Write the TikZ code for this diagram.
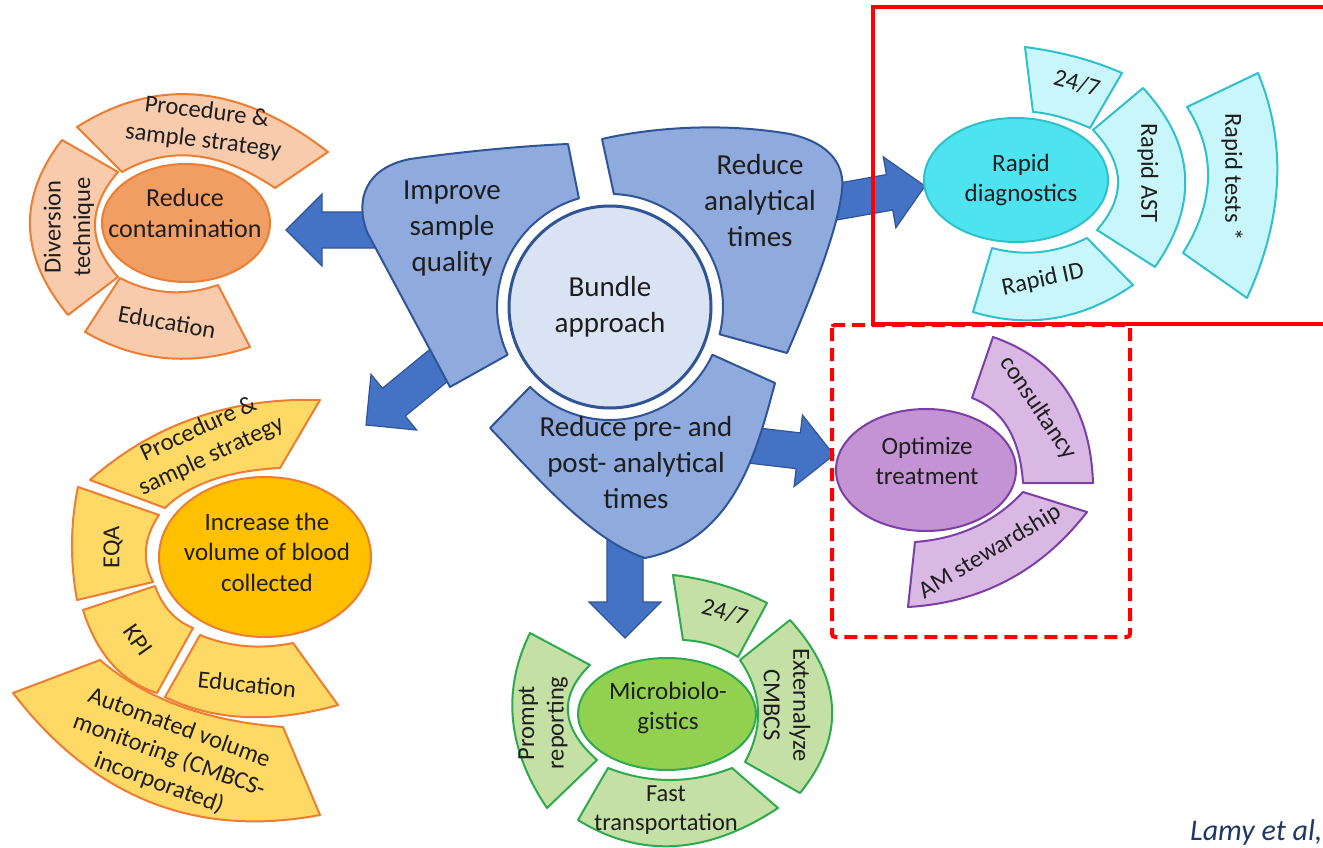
\documentclass[tikz,border=0pt]{standalone}
\usepackage{fontspec}
\setmainfont{Carlito}
\usetikzlibrary{calc,shapes.geometric}
\definecolor{bluefill}{HTML}{8FAADC}
\definecolor{blueline}{HTML}{2F5597}
\definecolor{bluearrow}{HTML}{4472C4}
\definecolor{bluecenter}{HTML}{DAE3F3}
\definecolor{orline}{HTML}{ED7D31}
\definecolor{orpetal}{HTML}{F8CBAD}
\definecolor{orcenter}{HTML}{F19E64}
\definecolor{yepetal}{HTML}{FFD966}
\definecolor{yecenter}{HTML}{FFC000}
\definecolor{cyline}{HTML}{2EC1CC}
\definecolor{cypetal}{HTML}{C9F6FA}
\definecolor{cycenter}{HTML}{4DE4F0}
\definecolor{puline}{HTML}{7B3FA6}
\definecolor{pupetal}{HTML}{D9B9E3}
\definecolor{pucenter}{HTML}{C393D3}
\definecolor{grline}{HTML}{2EAA4E}
\definecolor{grpetal}{HTML}{C5E0A4}
\definecolor{grcenter}{HTML}{92D050}
\definecolor{refred}{HTML}{FF0000}
\definecolor{navy}{HTML}{1F3864}
\definecolor{txt}{HTML}{1E1E1E}
% band: outer edge #2-#3-#4 (through #3), inner edge #5-#6-#7 (through #6)
\newcommand\arcband[7]{\draw[#1] #2 .. controls ($1.3333*#3-0.3333*#4$) and ($1.3333*#3-0.3333*#2$) .. #4
  -- #5 .. controls ($1.3333*#6-0.3333*#7$) and ($1.3333*#6-0.3333*#5$) .. #7 -- cycle;}
\newcommand\blockarrow[3]{%
  \coordinate (#1s) at #2; \coordinate (#1t) at #3;
  \coordinate (#1h) at ($(#1t)!36pt!(#1s)$);
  \draw[barrow] ($(#1s)!18pt!90:(#1t)$) -- ($(#1h)!18pt!90:(#1t)$) -- ($(#1h)!36pt!90:(#1t)$) -- (#1t)
    -- ($(#1h)!36pt!-90:(#1t)$) -- ($(#1h)!18pt!-90:(#1t)$) -- ($(#1s)!18pt!-90:(#1t)$) -- cycle;}
\begin{document}
\begin{tikzpicture}[x=1pt,y=1pt,
  band/.style={line width=2pt, line join=round},
  orband/.style={band, draw=orline, fill=orpetal},
  yeband/.style={band, draw=orline, fill=yepetal},
  cyband/.style={band, draw=cyline, fill=cypetal},
  puband/.style={band, draw=puline, fill=pupetal},
  grband/.style={band, draw=grline, fill=grpetal},
  petal/.style={draw=blueline, fill=bluefill, line width=2pt, line join=round},
  barrow/.style={draw=blueline, fill=bluearrow, line width=1.2pt, line join=miter},
  cen/.style={ellipse, line width=2pt, inner sep=0pt},
  lbl/.style={font=\fontsize{24.5}{29.5}\selectfont, text=txt, align=center, inner sep=0pt},
  clbl/.style={font=\fontsize{25}{30.5}\selectfont, text=txt, align=center, inner sep=0pt},
  blbl/.style={font=\fontsize{29}{36}\selectfont, text=txt, align=center, inner sep=0pt}]
\useasboundingbox (0,0) rectangle (1323,-848);
\fill[white] (0,0) rectangle (1323,-848);

% block arrows (under the petals)
\blockarrow{aa}{(400,-230)}{(286,-230)}
\blockarrow{ab}{(466,-343)}{(366,-425)}
\blockarrow{ac}{(807,-207)}{(925,-186)}
\blockarrow{ad}{(715,-441)}{(834,-455)}
\blockarrow{ae}{(625,-520)}{(625,-638)}

% blue petals
\draw[petal] (568,-144) -- (578.9,-198.4) arc[start angle=106, end angle=205, radius=113]
  -- (450,-387) -- (367,-232) .. controls (355,-200) and (365,-168) .. (410,-159)
  .. controls (460,-152) and (520,-146) .. (568,-144) -- cycle;
\draw[petal] (602,-139) .. controls (650,-128) and (720,-122) .. (790,-134)
  .. controls (830,-143) and (845,-165) .. (842,-190) .. controls (838,-230) and (810,-300) .. (787,-353) -- (719.6,-334.3)
  arc[start angle=-14, end angle=88, radius=113] -- (602,-139) -- cycle;
\draw[petal] (530.1,-386.9) arc[start angle=225, end angle=335, radius=113] -- (775,-383)
  .. controls (757,-450) and (735,-540) .. (645,-558)
  .. controls (590,-540) and (535,-475) .. (490,-428) -- cycle;
\node[circle, draw=blueline, fill=bluecenter, line width=3pt, minimum size=202pt, inner sep=0pt] (bundle) at (610,-307) {};
\node[blbl] (bundlet) at (610,-307) {Bundle\\approach};
\node[blbl] (p1t) at (452,-229) {Improve\\sample\\quality};
\node[blbl] (p2t) at (760,-201) {Reduce\\analytical\\times};
\node[blbl] (p3t) at (636,-463) {Reduce pre- and\\post- analytical\\times};

% orange group
\arcband{orband}{(77,-127)}{(200,-95)}{(328,-152)}{(275,-188)}{(195,-156)}{(122,-172)}
\arcband{orband}{(62,-140)}{(30,-227)}{(68,-315)}{(118,-277)}{(95,-225)}{(118,-172)}
\arcband{orband}{(85,-332)}{(165,-358)}{(250,-347)}{(218,-285)}{(168,-292)}{(120,-278)}
\node[cen, draw=orline, fill=orcenter, minimum width=168pt, minimum height=118pt] (oc) at (186,-223) {};
\node[clbl, font=\fontsize{26}{31.5}\selectfont] (oct) at (185,-213) {Reduce\\contamination};
\node[lbl, rotate=-7] (o1) at (205,-127) {Procedure \&\\sample strategy};
\node[lbl, rotate=90] (o2) at (69,-227) {Diversion\\technique};
\node[lbl, rotate=-10] (o3) at (167,-322) {Education};

% yellow group
\arcband{yeband}{(90,-480)}{(195,-418)}{(320,-400)}{(280,-468)}{(212,-480)}{(165,-508)}
\arcband{yeband}{(78,-487)}{(72,-543)}{(77,-600)}{(153,-582)}{(146,-549)}{(159,-515)}
\arcband{yeband}{(83,-610)}{(112,-664)}{(157,-693)}{(193,-628)}{(170,-612)}{(155,-586)}
\arcband{yeband}{(165,-697)}{(245,-717)}{(338,-705)}{(293,-643)}{(245,-646)}{(200,-635)}
\arcband{yeband}{(13,-693)}{(150,-802)}{(320,-815)}{(283,-727)}{(180,-706)}{(100,-660)}
\node[cen, draw=orline, fill=yecenter, minimum width=212pt, minimum height=160pt] (yc) at (265,-557) {};
\node[clbl] (yct) at (267,-552) {Increase the\\volume of blood\\collected};
\node[lbl, rotate=25] (y1) at (205,-443) {Procedure \&\\sample strategy};
\node[lbl, rotate=90] (y2) at (113,-547) {EQA};
\node[lbl, rotate=-55] (y3) at (138,-640) {KPI};
\node[lbl, rotate=-6] (y4) at (247,-684) {Education};
\node[lbl, rotate=-20] (y5) at (169,-756) {Automated volume\\monitoring (CMBCS-\\incorporated)};

% cyan group
\arcband{cyband}{(1025,-47)}{(1076,-57)}{(1122,-73)}{(1090,-128)}{(1060,-117)}{(1033,-112)}
\arcband{cyband}{(1143,-88)}{(1185,-175)}{(1155,-267)}{(1097,-230)}{(1118,-180)}{(1093,-130)}
\arcband{cyband}{(1258,-73)}{(1277,-182)}{(1247,-298)}{(1183,-253)}{(1208,-178)}{(1187,-107)}
\arcband{cyband}{(1133,-285)}{(1055,-318)}{(973,-312)}{(992,-248)}{(1040,-252)}{(1087,-238)}
\node[cen, draw=cyline, fill=cycenter, minimum width=184pt, minimum height=124pt] (cc) at (1016,-180) {};
\node[clbl] (cct) at (1021,-180) {Rapid\\diagnostics};
\node[lbl, rotate=-15] (c1) at (1077,-83) {24/7};
\node[lbl, rotate=-90] (c2) at (1148,-173) {Rapid AST};
\node[lbl, rotate=-90] (c3) at (1232,-177) {Rapid tests *};
\node[lbl, rotate=12] (c4) at (1043,-280) {Rapid ID};

% purple group
\arcband{puband}{(993,-337)}{(1066,-390)}{(1093,-483)}{(1023,-483)}{(1008,-428)}{(972,-398)}
\arcband{puband}{(1087,-512)}{(1008,-580)}{(908,-607)}{(915,-542)}{(975,-527)}{(1023,-492)}
\node[cen, draw=puline, fill=pucenter, minimum width=180pt, minimum height=122pt] (pc) at (926,-470) {};
\node[clbl] (pct) at (927,-461) {Optimize\\treatment};
\node[lbl, rotate=-56] (q1) at (1038,-408) {consultancy};
\node[lbl, rotate=31] (q2) at (990,-552) {AM stewardship};

% green group
\arcband{grband}{(673,-575)}{(722,-585)}{(767,-603)}{(738,-657)}{(712,-645)}{(683,-640)}
\arcband{grband}{(790,-620)}{(832,-707)}{(800,-793)}{(745,-762)}{(758,-710)}{(740,-660)}
\arcband{grband}{(778,-808)}{(675,-846)}{(578,-820)}{(608,-768)}{(670,-780)}{(732,-768)}
\arcband{grband}{(547,-808)}{(513,-720)}{(530,-633)}{(590,-665)}{(568,-712)}{(597,-760)}
\node[cen, draw=grline, fill=grcenter, minimum width=178pt, minimum height=112pt] (gc) at (667,-714) {};
\node[clbl] (gct) at (668,-708) {Microbiolo-\\gistics};
\node[lbl, rotate=-15] (g1) at (725,-612) {24/7};
\node[lbl, rotate=-90] (g2) at (787,-705) {Externalyze\\CMBCS};
\node[lbl] (g3) at (666,-810) {Fast\\transportation};
\node[lbl, rotate=90] (g4) at (543,-723) {Prompt\\reporting};

% red frames
\draw[refred, line width=4pt] (873,-7) rectangle (1340,-324);
\draw[refred, line width=4pt, dash pattern=on 13pt off 7pt, rounded corners=3pt] (832,-325) rectangle (1130,-637);

\node[anchor=west, inner sep=0pt, font=\fontsize{30}{36}\selectfont\itshape, text=navy] (cite) at (1190,-832) {Lamy et al,};
\end{tikzpicture}
\end{document}
